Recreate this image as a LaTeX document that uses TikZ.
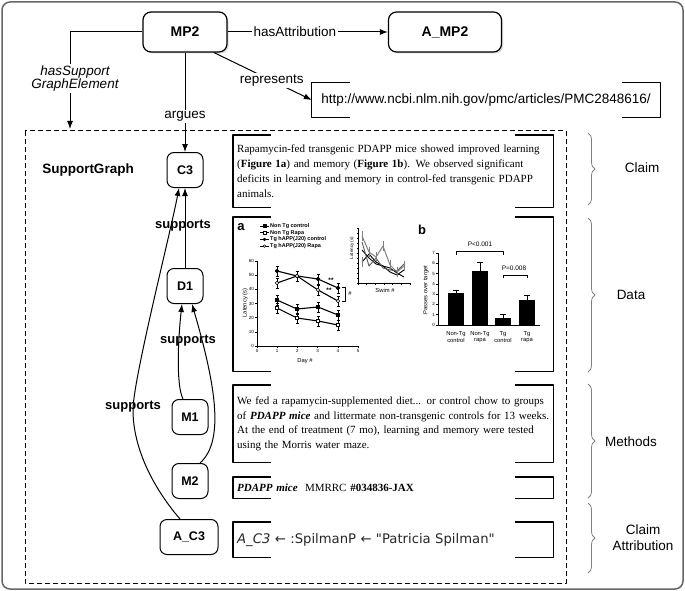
\documentclass[tikz,border=0pt]{standalone}
\usepackage{fontspec}
\setmainfont{Liberation Serif}
\setsansfont{Liberation Sans}
\newfontfamily\symfont{DejaVu Sans}
\usetikzlibrary{arrows.meta,shadows,decorations.pathreplacing,plotmarks}
\hyphenpenalty=10000

\begin{document}
\begin{tikzpicture}[x=1pt,y=-1pt,line join=round,
    obj/.style={draw,line width=1.2pt,rounded corners=8pt,fill=white,
                minimum height=40pt,
                font=\sffamily\bfseries\fontsize{14}{16}\selectfont,
                drop shadow={opacity=0.3,shadow xshift=1.5pt,shadow yshift=-1.5pt}},
    gnd/.style={draw,line width=1pt,rounded corners=7pt,fill=white,
                minimum width=36pt,minimum height=35pt,inner sep=1pt,
                font=\sffamily\bfseries\fontsize{12.5}{14}\selectfont},
    rel/.style={line width=1pt,-{Latex[length=8pt,width=6pt]}},
    lbl/.style={fill=white,inner sep=1.5pt,font=\sffamily\fontsize{13.5}{15}\selectfont},
    slbl/.style={inner sep=0pt,font=\sffamily\bfseries\fontsize{13}{15}\selectfont},
    txt/.style={inner xsep=4pt,inner ysep=0pt,anchor=north west,align=left,
                minimum width=320pt,text width=312pt},
    frm/.style={line width=1.2pt},
    brc/.style={decorate,decoration={brace,amplitude=7pt},gray,line width=0.8pt},
    sec/.style={align=center,font=\sffamily\fontsize{13.5}{16}\selectfont},
    ax/.style={line width=0.6pt},
    tk/.style={inner sep=0.8pt,font=\sffamily\fontsize{4.5}{4.5}\selectfont},
    flbl/.style={inner sep=0.5pt,font=\sffamily\fontsize{5.8}{6.3}\selectfont},
    ser/.style={line width=1.1pt},
    eb/.style={line width=0.5pt}]

  \useasboundingbox (0,0) rectangle (685,591);
  \draw[gray!80!black,line width=1.5pt,rounded corners=8pt] (2,2) rectangle (683,589);

  % top level
  \node[obj,minimum width=84pt] (mp2) at (185,32) {MP2};
  \node[obj,minimum width=113pt] (amp2) at (445,32) {A\_MP2};
  \node[minimum width=348pt,minimum height=35pt,
        font=\sffamily\fontsize{13.5}{15}\selectfont] (url) at (486,100)
        {http://www.ncbi.nlm.nih.gov/pmc/articles/PMC2848616/};

  % support graph
  \draw[line width=1pt,dash pattern=on 5pt off 3pt] (25,131) rectangle (566,583);
  \coordinate (sgtop) at (70,129);
  \node[slbl,font=\sffamily\bfseries\fontsize{13.5}{15}\selectfont] (sg) at (88,170) {SupportGraph};
  \node[gnd] (c3) at (185,170) {C3};
  \node[gnd] (d1) at (185,286) {D1};
  \node[gnd] (m1) at (190,417) {M1};
  \node[gnd] (m2) at (190,481) {M2};
  \node[gnd,minimum width=58pt] (ac3) at (189,537) {A\_C3};

  \draw[rel] (mp2) -- node[lbl,pos=0.42] (ha) {hasAttribution} (amp2);
  \draw[rel] (mp2.west) -| node[lbl,pos=0.74,xshift=5pt,align=center,
        font=\sffamily\itshape\fontsize{13.5}{13}\selectfont] (hs) {hasSupport\\GraphElement} (sgtop);
  \draw[rel] (mp2.south) -- node[lbl,pos=0.64] (ar) {argues} (c3.north);
  \draw[rel] ([xshift=29pt]mp2.south) -- node[lbl,pos=0.59] (rp) {represents} (url.west);

  \draw[rel] (d1) -- (c3);
  \draw[rel] ([xshift=-7pt]m1.north) .. controls (176,385) and (178,340) .. ([xshift=-3pt]d1.south);
  \draw[rel] ([xshift=10pt]m2.north) .. controls (226,440) and (214,380) .. ([xshift=7pt]d1.south);
  \draw[rel] ([xshift=-9pt]ac3.north) .. controls (155,490) and (133,450) .. (133,410)
        .. controls (133,380) and (170,235) .. ([xshift=-6pt]c3.south);
  \node[slbl] (s1) at (183,226) {supports};
  \node[slbl] (s2) at (188,341) {supports};
  \node[slbl] (s3) at (133,407) {supports};

  % evidence boxes
  \node[txt,minimum height=72pt,font=\fontsize{11}{15}\selectfont] (claim) at (233,135)
    {Rapamycin-fed transgenic PDAPP mice showed improved learning\\
     (\textbf{Figure 1a}) and memory (\textbf{Figure 1b}). We observed significant\\
     deficits in learning and memory in control-fed transgenic PDAPP\\
     animals.};
  \node[txt,minimum height=154pt] (data) at (233,217) {};
  \node[txt,minimum height=77pt,font=\fontsize{11}{14.7}\selectfont] (meth) at (233,385)
    {We fed a rapamycin-supplemented diet... or control chow to groups\\
     of \textbf{\textit{PDAPP mice}} and littermate non-transgenic controls for 13 weeks.\\
     At the end of treatment (7 mo), learning and memory were tested\\
     using the Morris water maze.};
  \node[txt,minimum height=21pt,font=\fontsize{11}{13}\selectfont] (mice) at (233,477)
    {\textbf{\textit{PDAPP mice}}~ MMRRC \textbf{\#034836-JAX}};
  \node[txt,minimum height=35pt,text=black!85,font=\symfont\fontsize{13.2}{15}\selectfont] (attr) at (233,522)
    {\textit{A\_C3} ← :SpilmanP ← "Patricia Spilman"};

  \foreach \b in {url,claim,data,meth,mice,attr}{
    \draw[frm] ([xshift=38pt]\b.north west) -- (\b.north west) -- (\b.south west) -- ([xshift=38pt]\b.south west);
    \draw[frm] ([xshift=-38pt]\b.north east) -- (\b.north east) -- (\b.south east) -- ([xshift=-38pt]\b.south east);
  }

  % figure 1a
  \node[inner sep=0pt,font=\sffamily\bfseries\fontsize{13}{13}\selectfont] (pa) at (241,227) {a};
  \draw[ax] (257,261) -- (257,346) -- (358,346);
  \foreach \k in {0,...,5}
    \draw[ax] ({257+20.2*\k},346) -- ++(0,2) node[tk,below] (xa\k) {\k};
  \foreach \k/\v in {0/0,1/10,2/20,3/30,4/40,5/50,6/60}
    \draw[ax] (257,{346-14.17*\k}) -- ++(-2,0) node[tk,left] (ya\k) {\v};
  \node[flbl,rotate=90] (lata) at (245,303) {Latency (s)};
  \node[flbl] (daya) at (305,361) {Day \#};
  \foreach \x/\y in {277/271,297/276,318/279,338/288,277/283,297/276,318/290,338/301,
                     277/300,297/309,318/307,338/315,277/308,297/318,318/321,338/325}
    \draw[eb] (\x-1.5,\y-5) -- (\x+1.5,\y-5) (\x,\y-5) -- (\x,\y+5) (\x-1.5,\y+5) -- (\x+1.5,\y+5);
  \draw[ser] plot[mark=*,mark size=1.7pt] coordinates {(277,271) (297,276) (318,279) (338,288)};
  \draw[ser] plot[mark=*,mark size=1.7pt,mark options={fill=white,line width=0.6pt}]
    coordinates {(277,283) (297,276) (318,290) (338,301)};
  \draw[ser] plot[mark=square*,mark size=1.7pt] coordinates {(277,300) (297,309) (318,307) (338,315)};
  \draw[ser] plot[mark=square*,mark size=1.7pt,mark options={fill=white,line width=0.6pt}]
    coordinates {(277,308) (297,318) (318,321) (338,325)};
  \node[flbl,font=\sffamily\bfseries\fontsize{6.5}{6.5}\selectfont] (st1) at (331,280) {**};
  \node[flbl,font=\sffamily\bfseries\fontsize{6.5}{6.5}\selectfont] (st2) at (329,290) {**};
  \draw[eb] (342,287) -- (345,287) -- (345,301) -- (342,301);
  \node[flbl] (hsh) at (350,294) {\#};
  \foreach \i/\m/\f/\t in {0/square*/black/Non Tg control,1/square*/white/Non Tg Rapa,
                           2/*/black/Tg hAPP(J20) control,3/*/white/Tg hAPP(J20) Rapa}{
    \pgfmathsetmacro\yy{226+6.7*\i}
    \draw[line width=0.9pt] (260,\yy) -- (269,\yy);
    \path plot[mark=\m,mark size=1.4pt,mark options={fill=\f,line width=0.5pt}] coordinates {(264.5,\yy)};
    \node[flbl,anchor=west,font=\sffamily\bfseries\fontsize{5.5}{6}\selectfont] (lg\i) at (269.5,\yy) {\t};
  }

  % inset
  \draw[ax] (358,228) -- (358,283) -- (410,283);
  \foreach \k in {0,...,6} \draw[ax] ({358+8.67*\k},283) -- ++(0,1.5);
  \foreach \k in {0,...,11} \draw[ax] (358,{283-5*\k}) -- ++(-1.5,0);
  \node[tk,rotate=90] (lati) at (352,248) {Latency (s)};
  \node[flbl] (swim) at (385,290) {Swim \#};
  \draw[ser,gray,line width=1pt] plot coordinates {(362,236) (369,252) (376,257) (383,246) (390,265) (397,272) (404,266)};
  \draw[ser,line width=0.9pt] plot coordinates {(362,250) (369,258) (376,264) (383,266) (390,268) (397,273) (404,277)};
  \draw[ser,line width=0.9pt] plot coordinates {(362,262) (369,254) (376,262) (383,266) (390,272) (397,275) (404,270)};
  \draw[ser,gray!70!black,line width=0.9pt] plot coordinates {(362,242) (369,266) (376,258) (383,268) (390,270) (397,271) (404,264)};
  \foreach \x/\y in {362/236,362/262,369/252,376/257,383/246,390/265,397/272,404/266}
    \draw[eb,gray] (\x,\y-5) -- (\x,\y+5);

  % figure 1b
  \node[inner sep=0pt,font=\sffamily\bfseries\fontsize{13}{13}\selectfont] (pb) at (422,230) {b};
  \draw[ax] (438,253) -- (438,325) -- (540,325);
  \foreach \k in {0,...,7}
    \draw[ax] (438,{325-10.3*\k}) -- ++(-2,0) node[tk,left] (yb\k) {\k};
  \node[flbl,rotate=90] (pot) at (426,290) {Passes over target};
  \foreach \c/\v/\e in {456/3.1/3.4,480/5.2/6.1,503/0.7/1.0,527/2.4/2.9}{
    \fill (\c-8,325) rectangle (\c+8,{325-10.3*\v});
    \draw[ax] (\c,{325-10.3*\v}) -- (\c,{325-10.3*\e}) (\c-3,{325-10.3*\e}) -- (\c+3,{325-10.3*\e});
  }
  \draw[ax] (456,255) -- (456,251) -- (503,251) -- (503,255);
  \node[flbl,font=\sffamily\fontsize{6.5}{7}\selectfont] (p1) at (480,244) {P<0.001};
  \draw[ax] (503,278) -- (503,275) -- (527,275) -- (527,278);
  \node[flbl,font=\sffamily\fontsize{6.5}{7}\selectfont] (p2) at (514,268) {P=0.008};
  \node[flbl,align=center] (cb1) at (456,337) {Non-Tg\\control};
  \node[flbl,align=center] (cb2) at (480,337) {Non-Tg\\rapa};
  \node[flbl,align=center] (cb3) at (503,337) {Tg\\control};
  \node[flbl,align=center] (cb4) at (527,337) {Tg\\rapa};

  % sections
  \draw[brc] (588,133) -- (588,205);
  \draw[brc] (588,218) -- (588,372);
  \draw[brc] (588,384) -- (588,498);
  \draw[brc] (588,503) -- (588,573);
  \node[sec] (lc) at (642,168) {Claim};
  \node[sec] (ld) at (631,295) {Data};
  \node[sec] (lm) at (631,442) {Methods};
  \node[sec] (la) at (643,538) {Claim\\Attribution};
\end{tikzpicture}
\end{document}
